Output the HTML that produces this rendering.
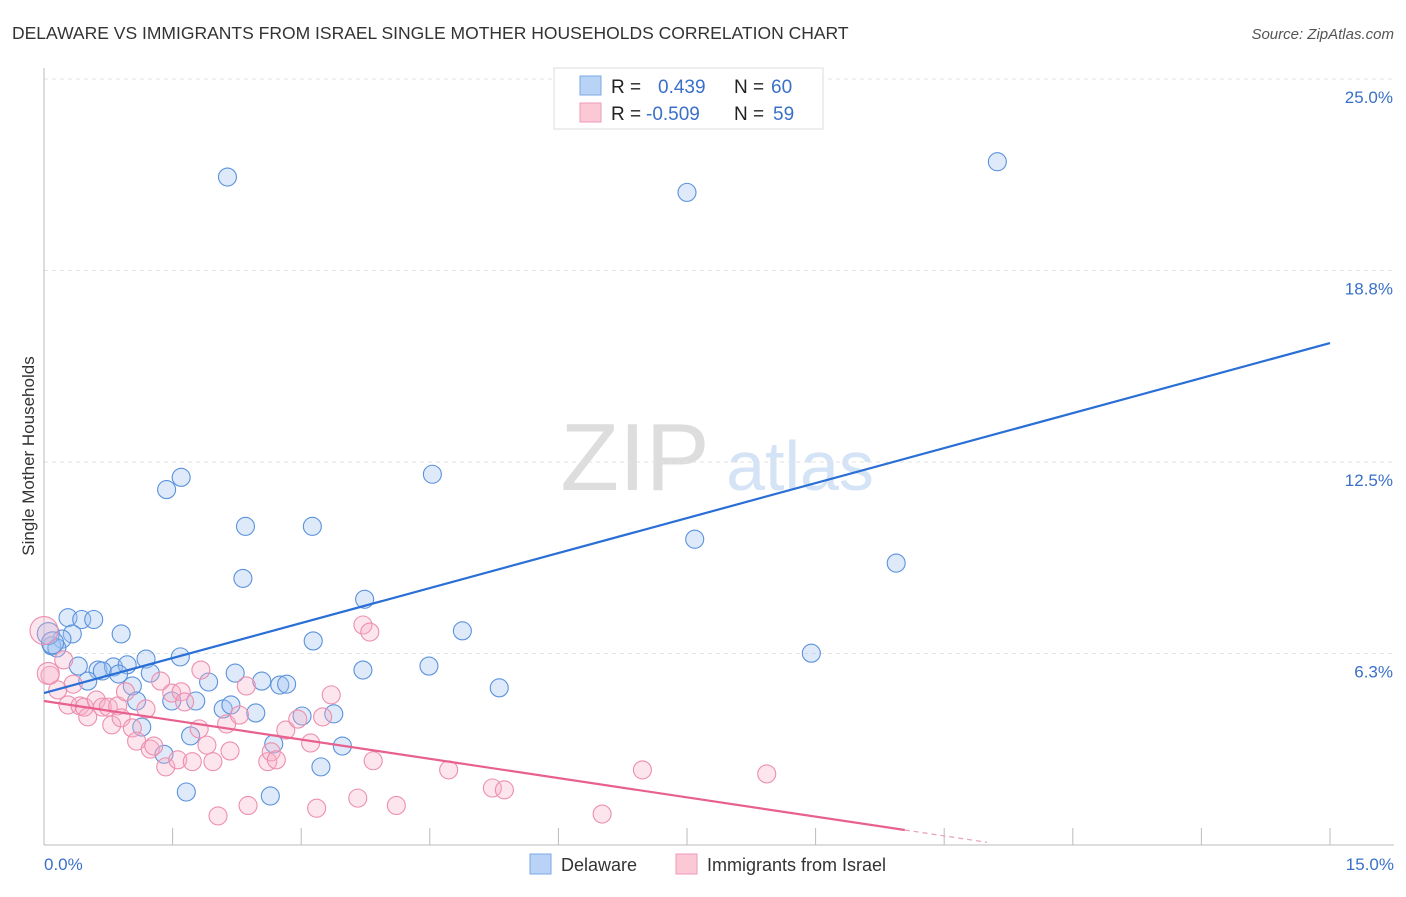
<!DOCTYPE html>
<html><head><meta charset="utf-8">
<style>
body{margin:0;background:#fff;font-family:"Liberation Sans",sans-serif;}
svg text{font-family:"Liberation Sans",sans-serif;}
</style></head>
<body>
<svg id="chart" width="1406" height="892" xmlns="http://www.w3.org/2000/svg">
<text x="12" y="39" font-size="17.5" fill="#333">DELAWARE VS IMMIGRANTS FROM ISRAEL SINGLE MOTHER HOUSEHOLDS CORRELATION CHART</text>
<text x="1394" y="39" font-size="15" fill="#555" font-style="italic" text-anchor="end">Source: ZipAtlas.com</text>
<g>
<text x="635" y="490" font-size="96" fill="#ddd" font-family="Liberation Serif" text-anchor="middle">ZIP</text>
<text x="800" y="490" font-size="70" fill="#d4e3f5" text-anchor="middle">atlas</text>
</g>
<g id="grid"></g>
<g id="axes"></g>
<g id="points"></g>
<g id="lines"></g>
<text transform="translate(34,456) rotate(-90)" font-size="17" fill="#333" text-anchor="middle">Single Mother Households</text>
<text x="44" y="870" font-size="17" fill="#3a70c8">0.0%</text>
<text x="1394" y="870" font-size="17" fill="#3a70c8" text-anchor="end">15.0%</text>
<g>
<rect x="554" y="68" width="269" height="61" fill="#fff" stroke="#ddd"/>
<rect x="580" y="76" width="21" height="19" fill="#b8d3f5" stroke="#7aa8e6"/>
<rect x="580" y="103" width="21" height="19" fill="#fbc8d6" stroke="#ef9ab4"/>
<text x="611" y="93" font-size="19" fill="#222">R =</text>
<text x="658" y="93" font-size="19" fill="#3a70c8">0.439</text>
<text x="734" y="93" font-size="19" fill="#222">N =</text>
<text x="771" y="93" font-size="19" fill="#3a70c8">60</text>
<text x="611" y="120" font-size="19" fill="#222">R =</text>
<text x="646" y="120" font-size="19" fill="#3a70c8">-0.509</text>
<text x="734" y="120" font-size="19" fill="#222">N =</text>
<text x="773" y="120" font-size="19" fill="#3a70c8">59</text>
</g>
<g>
<rect x="530" y="854" width="21" height="20" fill="#b8d3f5" stroke="#7aa8e6"/>
<text x="561" y="871" font-size="18" fill="#333">Delaware</text>
<rect x="676" y="854" width="21" height="20" fill="#fbc8d6" stroke="#ef9ab4"/>
<text x="707" y="871" font-size="18" fill="#333">Immigrants from Israel</text>
</g>
</svg>
<script>
const yTicks=[6.25,12.5,18.75,25];
const yTickLabels=["6.3%","12.5%","18.8%","25.0%"];
const xTicks=[0,1.5,3,4.5,6,7.5,9,10.5,12,13.5,15];
const blueX=[2.14,7.5,11.12,1.43,1.6,4.53,2.35,3.13,7.59,9.94,2.32,3.74,0.28,0.44,0.58,0.9,4.88,3.14,0.33,0.21,0.09,0.15,8.95,1.19,1.59,0.4,0.63,0.81,0.97,0.68,1.24,2.23,3.72,4.49,0.51,0.87,1.03,1.92,2.54,2.75,2.83,5.31,1.08,1.49,1.77,2.09,2.18,2.47,3.01,3.38,1.14,1.71,2.68,3.48,1.4,3.23,1.66,2.64,0.05,0.1];
const blueY=[21.8,21.3,22.3,11.6,12.0,12.1,10.4,10.4,9.98,9.2,8.7,8.02,7.42,7.36,7.36,6.89,6.99,6.66,6.89,6.72,6.5,6.43,6.26,6.07,6.14,5.84,5.71,5.81,5.88,5.68,5.61,5.61,5.71,5.84,5.35,5.58,5.19,5.32,5.35,5.22,5.25,5.13,4.7,4.7,4.7,4.44,4.57,4.31,4.21,4.28,3.85,3.56,3.3,3.23,2.96,2.55,1.73,1.6,6.9,6.6];
const pinkX=[0.0,0.07,0.23,0.16,0.34,0.28,0.42,0.51,0.47,0.61,0.68,0.75,0.79,0.86,0.9,0.95,1.03,1.08,1.19,1.24,1.28,1.36,1.42,1.49,1.6,1.64,1.56,1.73,1.81,1.83,1.9,1.97,2.03,2.13,2.17,2.28,2.36,2.38,2.61,2.65,2.71,2.82,2.96,3.11,3.18,3.25,3.35,3.66,3.72,3.8,3.84,4.11,4.72,5.23,5.37,6.51,6.98,8.43,0.05];
const pinkY=[7.0,5.54,6.04,5.06,5.25,4.57,4.54,4.18,4.5,4.73,4.5,4.5,3.92,4.54,4.15,5.0,3.82,3.39,4.44,3.13,3.23,5.35,2.55,4.96,5.0,4.67,2.78,2.72,3.79,5.71,3.26,2.72,0.95,3.95,3.07,4.24,5.19,1.29,2.72,3.04,2.78,3.75,4.11,3.33,1.2,4.18,4.9,1.53,7.18,6.95,2.75,1.29,2.45,1.86,1.8,1.01,2.45,2.32,5.6];
const blueLine=[4.96,16.38];
const pinkLine=[4.70,0.49];

const NS="http://www.w3.org/2000/svg";
const X0=44,X1=1330,Y0=845,PX=191.5/6.25;
function sx(v){return X0+(X1-X0)*v/15;}
function sy(v){return Y0-v*PX;}
function mk(tag,attrs,parent){const e=document.createElementNS(NS,tag);for(const k in attrs)e.setAttribute(k,attrs[k]);document.getElementById(parent).appendChild(e);return e;}

yTicks.forEach((t,i)=>{
  const l=mk('line',{x1:X0,x2:1394,y1:sy(t),y2:sy(t),stroke:'#e2e2e2','stroke-dasharray':'4,4'},'grid');
  
  
  const tx=mk('text',{x:1393,y:sy(t)+24,'font-size':17,fill:'#3a70c8','text-anchor':'end'},'grid');
  tx.textContent=yTickLabels[i];
  
  
});
const ya=mk('line',{x1:X0,x2:X0,y1:68,y2:Y0,stroke:'#bbb'},'axes');


const xa=mk('line',{x1:X0,x2:1394,y1:Y0,y2:Y0,stroke:'#bbb'},'axes');


xTicks.forEach(t=>{
  const tk=mk('line',{x1:sx(t),x2:sx(t),y1:Y0,y2:Y0-17,stroke:'#bbb'},'axes');
  
  
});
blueX.forEach((v,i)=>{
  const r=(i>=58)?11:9;
  const c=mk('circle',{cx:sx(v),cy:sy(blueY[i]),r:r,fill:'rgba(160,196,240,0.35)',stroke:'#5a92dc','stroke-width':1.1},'points');
  
  
});
pinkX.forEach((v,i)=>{
  const r=(i===0)?14:(i===58?11:9);
  const c=mk('circle',{cx:sx(v),cy:sy(pinkY[i]),r:r,fill:'rgba(248,175,198,0.32)',stroke:'#ec8fae','stroke-width':1.1},'points');
  
  
});
const bl=mk('line',{x1:sx(0),y1:sy(blueLine[0]),x2:sx(15),y2:sy(blueLine[1]),stroke:'#2a6fd6','stroke-width':2.2},'lines');


const pEnd=10.04, slope=(pinkLine[1]-pinkLine[0])/pEnd;
const pl=mk('line',{x1:sx(0),y1:sy(pinkLine[0]),x2:sx(pEnd),y2:sy(pinkLine[1]),stroke:'#e8608d','stroke-width':2.2},'lines');


const pd=mk('line',{x1:sx(pEnd),y1:sy(pinkLine[1]),x2:sx(11),y2:sy(pinkLine[0]+slope*11),stroke:'#e8a0b8','stroke-width':1.2,'stroke-dasharray':'5,4'},'lines');


</script>
</body></html>
